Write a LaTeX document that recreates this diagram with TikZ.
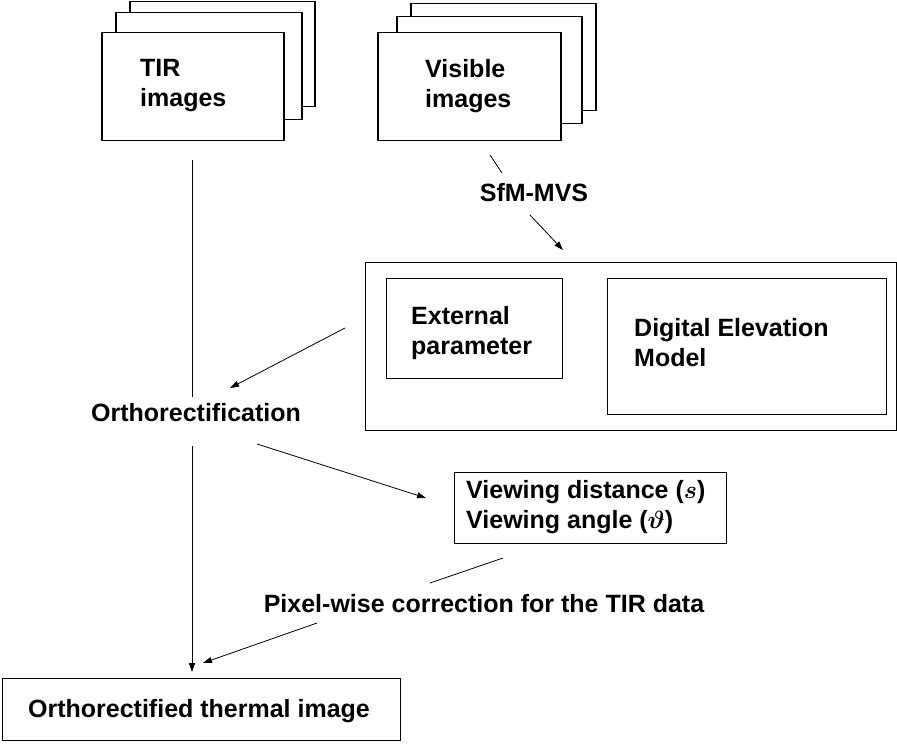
\documentclass[tikz,border=0pt]{standalone}
\usepackage{fontspec}
\usepackage{amsmath}
\setmainfont{Liberation Sans}
\usetikzlibrary{arrows.meta}
\begin{document}
\begin{tikzpicture}[x=1pt,y=-1pt,
  card/.style={draw, line width=1.5pt, fill=white, anchor=north west, inner sep=0pt},
  frame/.style={draw, line width=1.3pt, anchor=north west, inner sep=0pt},
  lbl/.style={font=\fontsize{25}{30}\selectfont\bfseries, align=left, inner sep=0pt},
  conn/.style={line width=0.8pt},
  arr/.style={line width=0.8pt, -{Triangle[length=9pt,width=6pt]}}
]
\useasboundingbox (0,0) rectangle (897,746);
% TIR stack
\node[card, minimum width=185pt, minimum height=105pt] (tir3) at (129,1) {};
\node[card, minimum width=186pt, minimum height=107pt] (tir2) at (115,12) {};
\node[card, minimum width=182pt, minimum height=108pt] (tir1) at (101,32) {};
\node[lbl, anchor=west] (tirt) at (140,86) {TIR\\images};
% Visible stack
\node[card, minimum width=185pt, minimum height=107pt] (vis3) at (410,3) {};
\node[card, minimum width=185pt, minimum height=107pt] (vis2) at (396,16) {};
\node[card, minimum width=183pt, minimum height=108pt] (vis1) at (377,32) {};
\node[lbl, anchor=west] (vist) at (425,86) {Visible\\images};
% SfM-MVS
\node[lbl] (sfm) at (534,193) {SfM-MVS};
\coordinate (s1) at (490,155);
\coordinate (s2) at (502,173);
\coordinate (s3) at (530,215);
\coordinate (s4) at (563,250);
\draw[conn] (s1) -- (s2);
\draw[arr] (s3) -- (s4);
% big frame
\node[frame, minimum width=531pt, minimum height=168pt] (big) at (365,262) {};
\node[frame, minimum width=176pt, minimum height=100pt] (ext) at (386,278) {};
\node[frame, minimum width=279pt, minimum height=136pt] (dem) at (607,278) {};
\node[lbl, anchor=west] (extt) at (411,333) {External\\parameter};
\node[lbl, anchor=west] (demt) at (634,343) {Digital Elevation\\Model};
% Orthorectification
\node[lbl] (ortho) at (196,413) {Orthorectification};
\coordinate (b1) at (345,328);
\coordinate (b2) at (230,388);
\draw[arr] (b1) -- (b2);
\coordinate (v1) at (192,160);
\coordinate (v2) at (192,397);
\coordinate (v3) at (192,446);
\coordinate (v4) at (192,672);
\draw[conn] (v1) -- (v2);
\draw[arr] (v3) -- (v4);
% viewing box
\node[frame, line width=0.9pt, minimum width=272pt, minimum height=71pt] (view) at (454,472) {};
\node[lbl, anchor=west] (viewt) at (466,507) {Viewing distance ($\boldsymbol{s}$)\\Viewing angle ($\boldsymbol{\vartheta}$)};
\coordinate (o1) at (257,444);
\coordinate (o2) at (426,498);
\draw[arr] (o1) -- (o2);
% pixel-wise
\node[lbl] (pix) at (484,604) {Pixel-wise correction for the TIR data};
\coordinate (p1) at (503,558);
\coordinate (p2) at (430,583);
\draw[conn] (p1) -- (p2);
\coordinate (q1) at (317,623);
\coordinate (q2) at (203,663);
\draw[arr] (q1) -- (q2);
% bottom
\node[frame, minimum width=398pt, minimum height=62pt] (out) at (2,678) {};
\node[lbl] (outt) at (199,711) {Orthorectified thermal image};
\end{tikzpicture}
\end{document}
